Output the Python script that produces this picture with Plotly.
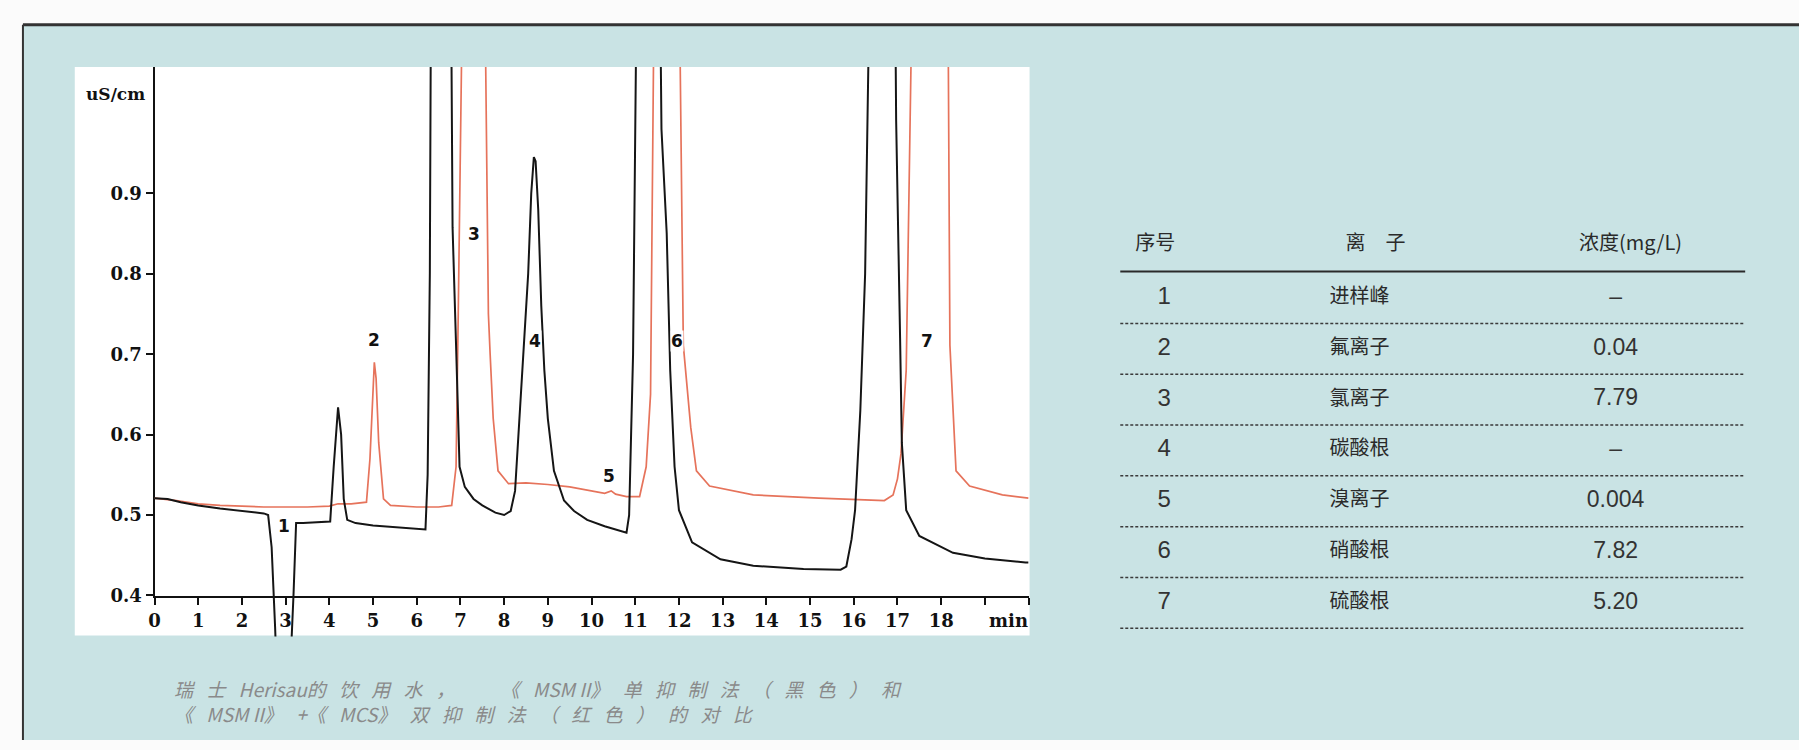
import plotly.graph_objects as go

W, H = 1799, 750

# ---------------- chromatogram data (time in min, conductivity in uS/cm) ----------------
# single suppression, MSM II (black)
t_black = [0.00, 0.30, 0.60, 1.00, 1.50, 2.00, 2.50, 2.60, 2.68, 2.76, 2.80, 2.95, 3.10, 3.18,
           3.24, 3.40, 3.80, 4.02, 4.10, 4.20, 4.27, 4.33, 4.41, 4.60, 5.00, 5.50, 6.00, 6.20,
           6.25, 6.30, 6.33, 6.55, 6.78, 6.82, 6.90, 6.98, 7.10, 7.30, 7.50, 7.80, 8.00, 8.15,
           8.25, 8.35, 8.45, 8.55, 8.62, 8.68, 8.72, 8.78, 8.85, 8.92, 9.00, 9.14, 9.37, 9.60,
           9.90, 10.30, 10.80, 10.86, 10.95, 11.04, 11.30, 11.56, 11.60, 11.72, 11.80, 11.90,
           12.00, 12.30, 12.95, 13.70, 14.85, 15.70, 15.83, 15.95, 16.03, 16.15, 16.26, 16.32,
           16.60, 16.94, 16.97, 17.06, 17.10, 17.20, 17.50, 18.27, 19.00, 19.93, 20.00]
v_black = [0.521, 0.520, 0.516, 0.512, 0.508, 0.505, 0.502, 0.500, 0.460, 0.360, 0.300, 0.250,
           0.300, 0.400, 0.490, 0.490, 0.491, 0.492, 0.560, 0.634, 0.600, 0.520, 0.494, 0.490,
           0.487, 0.485, 0.483, 0.482, 0.550, 0.800, 1.200, 2.000, 1.200, 0.858, 0.711, 0.560,
           0.535, 0.520, 0.512, 0.503, 0.500, 0.505, 0.530, 0.620, 0.710, 0.800, 0.900, 0.945,
           0.940, 0.880, 0.760, 0.680, 0.620, 0.555, 0.518, 0.505, 0.494, 0.486, 0.478, 0.500,
           0.700, 1.200, 2.000, 1.200, 0.980, 0.850, 0.680, 0.560, 0.506, 0.466, 0.445, 0.437,
           0.433, 0.432, 0.436, 0.470, 0.506, 0.630, 0.800, 1.200, 2.000, 1.200, 0.990, 0.720,
           0.590, 0.506, 0.474, 0.453, 0.446, 0.441, 0.441]

# double suppression, MSM II + MCS (red)
t_red = [0.00, 0.50, 1.00, 1.50, 2.00, 2.50, 3.00, 3.50, 4.00, 4.20, 4.50, 4.85, 4.93, 5.00,
         5.03, 5.07, 5.13, 5.24, 5.40, 6.00, 6.50, 6.80, 6.90, 6.95, 6.98, 7.25, 7.55, 7.64,
         7.68, 7.75, 7.86, 8.10, 8.50, 9.00, 9.50, 10.00, 10.30, 10.45, 10.55, 10.80, 11.10,
         11.25, 11.35, 11.44, 11.72, 12.00, 12.10, 12.27, 12.40, 12.70, 13.70, 15.20, 16.70,
         16.90, 17.00, 17.08, 17.20, 17.35, 17.75, 18.15, 18.20, 18.34, 18.65, 19.40, 19.93,
         20.00]
v_red = [0.521, 0.518, 0.514, 0.512, 0.511, 0.510, 0.510, 0.510, 0.511, 0.514, 0.514, 0.516,
         0.570, 0.670, 0.690, 0.670, 0.590, 0.520, 0.512, 0.510, 0.510, 0.512, 0.560, 0.750,
         1.200, 2.000, 1.200, 0.750, 0.700, 0.620, 0.555, 0.539, 0.540, 0.538, 0.535, 0.530,
         0.527, 0.530, 0.526, 0.523, 0.523, 0.560, 0.650, 1.200, 2.000, 1.200, 0.711, 0.609,
         0.555, 0.536, 0.525, 0.521, 0.518, 0.525, 0.545, 0.576, 0.680, 1.200, 2.000, 1.200,
         0.711, 0.555, 0.536, 0.525, 0.521, 0.521]

# peak numbers written next to the peaks
peak_labels = ["1", "2", "3", "4", "5", "6", "7"]
peak_t = [2.96, 5.03, 7.30, 8.70, 10.40, 11.96, 17.68]
peak_v = [0.486, 0.718, 0.849, 0.716, 0.549, 0.716, 0.716]

# axis ticks
x_tickvals = list(range(0, 21))
x_ticktext = [str(i) for i in range(0, 19)] + ["", ""]
y_tickvals = [0.4, 0.5, 0.6, 0.7, 0.8, 0.9]
y_ticktext = ["0.4", "0.5", "0.6", "0.7", "0.8", "0.9"]

# ---------------- results table ----------------
table_header = ["序号", "离　子", "浓度(mg/L)"]
row_no = ["1", "2", "3", "4", "5", "6", "7"]
ion_names = ["进样峰", "氟离子", "氯离子", "碳酸根", "溴离子", "硝酸根", "硫酸根"]
conc = ["–", "0.04", "7.79", "–", "0.004", "7.82", "5.20"]

caption_lines = ["瑞士Herisau的饮用水，　《MSM II》单抑制法（黑色）和",
                 "《MSM II》+《MCS》双抑制法（红色）的对比"]


def fx(px):
    return px / W


def fy(py):
    return 1 - py / H


def spaced(s):
    """Open up the tracking of CJK characters in the caption."""
    out = []
    for ch in s:
        out.append(ch)
        if ord(ch) > 0x2E80:
            out.append("\u2002\u2009")
    return "".join(out)


# vertical scale of the chromatogram: 0.4 at the x axis, 1.057 at the top edge
Y_BOT_PX, Y_TOP_PX, Y_CLIP_PX = 604, 68, 645
Y_LO, Y_HI = 0.3994, 1.057
per_px = (Y_HI - Y_LO) / (Y_BOT_PX - Y_TOP_PX)
Y2_LO = Y_LO - (Y_CLIP_PX - Y_BOT_PX) * per_px

# table rows: header at row 0, rows 1..7, pitch 51.5 px
ROW0_PX, ROW_PITCH = 250.5, 51.5
T_TOP_PX, T_BOT_PX = 200, 660
y3_range = [(T_BOT_PX - ROW0_PX) / ROW_PITCH, (T_TOP_PX - ROW0_PX) / ROW_PITCH]
T_LEFT_PX, T_RIGHT_PX = 1100, 1760


def tcol(px):
    return (px - T_LEFT_PX) / (T_RIGHT_PX - T_LEFT_PX)


head_center = [tcol(1153), tcol(1374), tcol(1630)]
col_center = [tcol(1162), tcol(1358), tcol(1615)]
line_l, line_r = tcol(1118), tcol(1745)

fig = go.Figure()

fig.add_trace(go.Scatter(x=t_red, y=v_red, xaxis="x", yaxis="y2", mode="lines",
                         line=dict(color="#e6735b", width=1.7), hoverinfo="skip",
                         showlegend=False))
fig.add_trace(go.Scatter(x=t_black, y=v_black, xaxis="x", yaxis="y2", mode="lines",
                         line=dict(color="#151515", width=2.0), hoverinfo="skip",
                         showlegend=False))

# table text
cjk = "Noto Sans CJK SC"
fig.add_trace(go.Scatter(
    x=head_center, y=[-0.05] * len(table_header), xaxis="x3", yaxis="y3",
    mode="text", text=table_header, textposition="middle center",
    textfont=dict(family=cjk, size=20, color="#2a2a2a"), hoverinfo="skip", showlegend=False))
rows = list(range(1, len(row_no) + 1))
fig.add_trace(go.Scatter(
    x=[col_center[0]] * len(rows), y=rows, xaxis="x3", yaxis="y3", mode="text",
    text=row_no, textposition="middle center",
    textfont=dict(family="Liberation Sans", size=24, color="#333333"),
    hoverinfo="skip", showlegend=False))
fig.add_trace(go.Scatter(
    x=[col_center[1]] * len(rows), y=rows, xaxis="x3", yaxis="y3", mode="text",
    text=ion_names, textposition="middle center",
    textfont=dict(family=cjk, size=20, color="#2a2a2a"),
    hoverinfo="skip", showlegend=False))
fig.add_trace(go.Scatter(
    x=[col_center[2]] * len(rows), y=rows, xaxis="x3", yaxis="y3", mode="text",
    text=conc, textposition="middle center",
    textfont=dict(family="Liberation Sans", size=23, color="#333333"),
    hoverinfo="skip", showlegend=False))

shapes = [
    # teal panel with dark frame
    dict(type="rect", xref="paper", yref="paper", x0=fx(17), x1=1, y0=0, y1=fy(25),
         fillcolor="#c9e3e4", line=dict(width=0), layer="below"),
    dict(type="line", xref="paper", yref="paper", x0=fx(17), x1=1, y0=fy(25), y1=fy(25),
         line=dict(color="#333333", width=3), layer="below"),
    dict(type="line", xref="paper", yref="paper", x0=fx(17), x1=fx(17), y0=0, y1=fy(25),
         line=dict(color="#333333", width=2), layer="below"),
    # white chart card
    dict(type="rect", xref="paper", yref="paper", x0=fx(69), x1=fx(1027), y0=fy(644),
         y1=fy(68), fillcolor="#ffffff", line=dict(width=0), layer="below"),
    # table header rule
    dict(type="line", xref="x3", yref="y3", x0=line_l, x1=line_r, y0=0.48, y1=0.48,
         line=dict(color="#2a2a2a", width=2)),
]
for r in rows:
    shapes.append(dict(type="line", xref="x3", yref="y3", x0=line_l, x1=line_r,
                       y0=r + 0.5, y1=r + 0.5,
                       line=dict(color="#3a3a3a", width=1.5, dash="3px,2px")))

tick_font = dict(family="DejaVu Serif", size=18, color="#111111", weight="bold")

annotations = []
for lab, tx, vy in zip(peak_labels, peak_t, peak_v):
    annotations.append(dict(x=tx, y=vy, xref="x", yref="y", text=lab, showarrow=False,
                            font=dict(family="DejaVu Sans", size=17, color="#111111",
                                      weight="bold"),
                            bgcolor="#ffffff", borderpad=0))
annotations.append(dict(x=fx(110), y=fy(95), xref="paper", yref="paper", text="uS/cm",
                        xanchor="center", yanchor="middle", showarrow=False,
                        font=dict(family="DejaVu Serif", size=17, color="#111111",
                                  weight="bold")))
annotations.append(dict(x=19.55, y=fy(629), xref="x", yref="paper", text="min",
                        xanchor="center", yanchor="middle", showarrow=False, font=tick_font))
annotations.append(dict(x=fx(167), y=fy(710), xref="paper", yref="paper",
                        text="<br>".join(spaced(s) for s in caption_lines),
                        showarrow=False, xanchor="left", yanchor="middle", align="left",
                        font=dict(family=cjk, size=19, color="#8a8a8a", style="italic")))

fig.update_layout(
    width=W, height=H,
    margin=dict(l=0, r=0, t=0, b=0),
    paper_bgcolor="#fbfbfb",
    plot_bgcolor="rgba(0,0,0,0)",
    showlegend=False,
    xaxis=dict(domain=[fx(149), fx(1026)], range=[0, 20], anchor="y",
               showline=True, linecolor="#111111", linewidth=2, mirror=False,
               ticks="outside", ticklen=7, tickwidth=1.5, tickcolor="#111111",
               tickvals=x_tickvals, ticktext=x_ticktext, tickfont=tick_font,
               showgrid=False, zeroline=False, fixedrange=True),
    yaxis=dict(domain=[fy(Y_BOT_PX), fy(Y_TOP_PX)], range=[Y_LO, Y_HI], anchor="x",
               showline=True, linecolor="#111111", linewidth=2,
               ticks="outside", ticklen=7, tickwidth=1.5, tickcolor="#111111",
               tickvals=y_tickvals, ticktext=y_ticktext, tickfont=tick_font,
               showgrid=False, zeroline=False, fixedrange=True),
    yaxis2=dict(domain=[fy(Y_CLIP_PX), fy(Y_TOP_PX)], range=[Y2_LO, Y_HI], anchor="x",
                visible=False, showgrid=False, zeroline=False, fixedrange=True),
    xaxis3=dict(domain=[fx(T_LEFT_PX), fx(T_RIGHT_PX)], range=[0, 1], anchor="y3",
                visible=False, fixedrange=True),
    yaxis3=dict(domain=[fy(T_BOT_PX), fy(T_TOP_PX)], range=y3_range, anchor="x3",
                visible=False, fixedrange=True),
    shapes=shapes,
    annotations=annotations,
)

fig.write_html("out.html")
